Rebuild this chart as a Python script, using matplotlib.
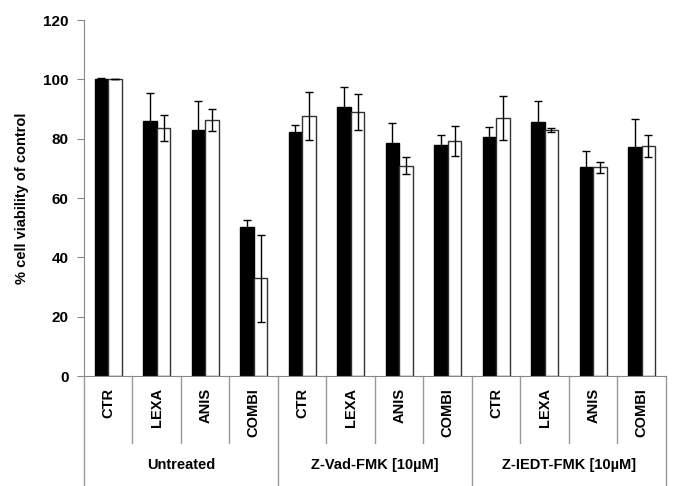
import numpy as np
import matplotlib
matplotlib.use("Agg")
import matplotlib.pyplot as plt

plt.rcParams["font.family"] = ["Liberation Sans", "DejaVu Sans"]

# Data
categories = ["CTR", "LEXA", "ANIS", "COMBI"] * 3
groups = ["Untreated", "Z-Vad-FMK [10µM]", "Z-IEDT-FMK [10µM]"]

black_vals = [100, 85.8, 82.8, 50.2, 82.2, 90.8, 78.7, 77.9, 80.7, 85.7, 70.5, 77.3]
black_err = [0.3, 9.5, 9.9, 2.4, 2.5, 6.6, 6.5, 3.4, 3.3, 6.9, 5.2, 9.2]
white_vals = [100, 83.7, 86.2, 32.9, 87.6, 89.1, 70.9, 79.3, 87.0, 82.9, 70.3, 77.6]
white_err = [0.0, 4.4, 3.7, 14.6, 8.2, 6.1, 2.8, 5.0, 7.5, 0.6, 2.0, 3.7]

fig = plt.figure(figsize=(6.75, 4.86), dpi=100)
ax = fig.add_axes([0.1244, 0.2263, 0.8622, 0.7325])

x = np.arange(len(categories))
w = 0.28
err_kw = dict(ecolor="black", elinewidth=1, capsize=2.6, capthick=1)

ax.bar(x - w / 2, black_vals, w, color="black", edgecolor="black",
       yerr=black_err, error_kw=err_kw, zorder=2)
ax.bar(x + w / 2, white_vals, w, color="white", edgecolor="#333333", linewidth=1,
       yerr=white_err, error_kw=err_kw, zorder=2)

ax.set_xlim(-0.5, len(categories) - 0.5)
ax.set_ylim(0, 120)
ax.set_yticks(range(0, 121, 20))
ax.tick_params(axis="y", length=5, color="#888888", labelsize=11, pad=6)
for lbl in ax.get_yticklabels():
    lbl.set_fontweight("bold")
ax.set_xticks([])
ax.set_ylabel("% cell viability of control", fontsize=10.5, fontweight="bold", labelpad=10)

for s in ["top", "right"]:
    ax.spines[s].set_visible(False)
ax.spines["left"].set_color("#888888")
ax.spines["bottom"].set_color("#888888")

# category separators and labels below the axis
trans = ax.get_xaxis_transform()
for i in range(len(categories) + 1):
    bottom = -0.309 if i % 4 == 0 else -0.188
    ax.plot([i - 0.5, i - 0.5], [0, bottom], color="#999999", lw=1,
            transform=trans, clip_on=False)
for i, c in enumerate(categories):
    ax.text(i, -0.033, c, rotation=90, ha="center", va="top", fontsize=10.5,
            fontweight="bold", transform=trans)
for g, name in enumerate(groups):
    ax.text(g * 4 + 1.5, -0.25, name, ha="center", va="center", fontsize=10.5,
            fontweight="bold", transform=trans)

fig.savefig("out.png", dpi=100)
